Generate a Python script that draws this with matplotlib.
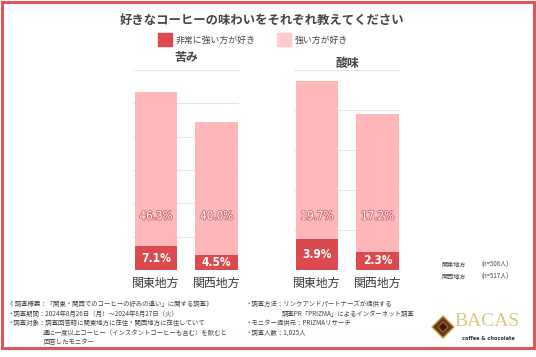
import matplotlib.pyplot as plt
import matplotlib.patheffects as pe
from matplotlib.patches import Rectangle, Polygon
from matplotlib.transforms import blended_transform_factory

plt.rcParams['font.family'] = ['Noto Sans CJK JP', 'DejaVu Sans']

# data
regions = ['関東地方', '関西地方']
panels = ['苦み', '酸味']
very_strong = {'苦み': [7.1, 4.5], '酸味': [3.9, 2.3]}
strong = {'苦み': [46.3, 40.0], '酸味': [19.7, 17.2]}
y_max = {'苦み': 60, '酸味': 25}
y_step = {'苦み': 10, '酸味': 5}
legend_labels = ['非常に強い方が好き', '強い方が好き']
sample_notes = ['関東地方　(n=508人)', '関西地方　(n=517人)']

DARK = '#DA4A4F'
LIGHT = '#FFB7BA'
TXT = '#444444'

fig = plt.figure(figsize=(5.36, 3.57), dpi=100, facecolor='white')

def px(x, y):
    return x / 536, 1 - y / 357

# outer red frame
fig.patches.append(Rectangle((1.5 / 536, 1 - 348 / 357), 532 / 536, 346.5 / 357,
                             transform=fig.transFigure, fill=False,
                             edgecolor='#E05557', linewidth=2.2))

fig.text(*px(262, 20), '好きなコーヒーの味わいをそれぞれ教えてください',
         ha='center', va='center', fontsize=8.9, fontweight='bold', color=TXT)

# legend
for (x0, lab, col) in [(158, legend_labels[0], DARK), (277, legend_labels[1], '#FFCBCD')]:
    fig.patches.append(Rectangle(px(x0, 46), 14 / 536, 13 / 357,
                                 transform=fig.transFigure, color=col))
    fig.text(*px(x0 + 18, 40), lab, ha='left', va='center', fontsize=6.4, color=TXT)

axes_left = {'苦み': 133, '酸味': 294}
title_y = {'苦み': 57, '酸味': 63}
for p in panels:
    ax = fig.add_axes([axes_left[p] / 536, 87 / 357, 106 / 536, 200 / 357])
    ax.set_xlim(-0.38, 1.37)
    ax.set_ylim(0, y_max[p])
    ax.set_axisbelow(True)
    ax.set_yticks(range(0, y_max[p] + 1, y_step[p]))
    ax.grid(axis='y', color='#E6E6E6', linewidth=0.8)
    for s in ax.spines.values():
        s.set_visible(False)
    ax.tick_params(left=False, bottom=False, labelleft=False, labelbottom=False)
    x = range(len(regions))
    ax.bar(x, very_strong[p], width=0.7, color=DARK, zorder=3)
    ax.bar(x, strong[p], bottom=very_strong[p], width=0.7, color=LIGHT, zorder=3)
    tr = blended_transform_factory(ax.transData, ax.transAxes)
    for i in x:
        ax.text(i, very_strong[p][i] / 2, f'{very_strong[p][i]:.1f}%', ha='center',
                va='center', fontsize=8.6, fontweight='bold', color='white',
                family='DejaVu Sans', fontstretch='condensed', zorder=5)
        ax.text(i, 0.27, f'{strong[p][i]:.1f}%', transform=tr, ha='center',
                va='center', fontsize=8.3, color='white', family='DejaVu Sans',
                fontstretch='condensed', zorder=5,
                path_effects=[pe.withStroke(linewidth=1.3, foreground='#D06A72')])
        ax.text(i, -0.065, regions[i], transform=tr, ha='center', va='center',
                fontsize=8.6, color='#3A3A3A')
    ax.text(0.5, 1 + (70 - title_y[p]) / 200, p, transform=ax.transAxes,
            ha='center', va='center', fontsize=8.6, fontweight='bold', color=TXT)

# sample size notes
for k, note in enumerate(sample_notes):
    name, n = note.split('　')
    fig.text(*px(441, 265 + 12 * k), name, ha='left', va='center', fontsize=4.4, color='#444444')
    fig.text(*px(482, 265 + 12 * k), n, ha='left', va='center', fontsize=4.4, color='#444444')

# footer notes
left_notes = [
    (7, 304, '《 調査概要：「関東・関西でのコーヒーの好みの違い」に関する調査》'),
    (7, 314, '・調査期間：2024年8月26日（月）～2024年8月27日（火）'),
    (7, 323, '・調査対象：調査回答時に関東地方に在住・関西地方に在住していて'),
    (43, 333, '週に一度以上コーヒー（インスタントコーヒーも含む）を飲むと'),
    (43, 342, '回答したモニター'),
    (245, 304, '・調査方法：リンクアンドパートナーズが提供する'),
    (282, 314, '調査PR「PRIZMA」によるインターネット調査'),
    (245, 323, '・モニター提供元：PRIZMAリサーチ'),
    (245, 333, '・調査人数：1,025人'),
]
for x0, y0, t in left_notes:
    fig.text(*px(x0, y0), t, ha='left', va='center', fontsize=4.6, color='#444444')

# logo
cx, cy, r = 443, 327, 11
fig.patches.append(Polygon([px(cx - r, cy), px(cx, cy - r), px(cx + r, cy), px(cx, cy + r)],
                           closed=True, transform=fig.transFigure,
                           facecolor='#6B3A1E', edgecolor='#C9A24A', linewidth=1.0))
fig.patches.append(Polygon([px(cx - 5, cy), px(cx, cy - 5), px(cx + 5, cy), px(cx, cy + 5)],
                           closed=True, transform=fig.transFigure,
                           facecolor='#3E1F0E', edgecolor='#B58A3C', linewidth=0.5))
fig.text(*px(487, 322), 'BACAS', ha='center', va='center', fontsize=14,
         family='Liberation Serif', color='#D8CD80')
fig.text(*px(488, 338), 'coffee & chocolate', ha='center', va='center', fontsize=4,
         fontweight='bold', family='DejaVu Sans', fontstretch='condensed', color='#333333')

fig.savefig('out.png', dpi=100, facecolor='white')
